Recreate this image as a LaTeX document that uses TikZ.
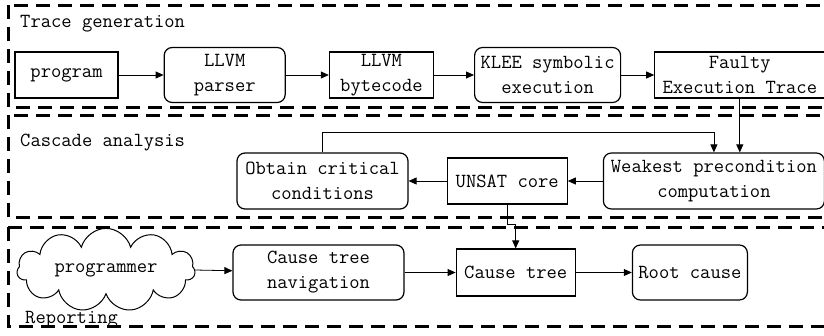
\documentclass[tikz,border=0pt]{standalone}
\usepackage{fontspec}
\usetikzlibrary{arrows.meta,positioning,shapes.symbols}

\tikzset{
  zone/.style={draw, line width=3pt, dash pattern=on 14pt off 8pt},
  box/.style={draw, line width=1.2pt, align=center, inner sep=2pt, minimum height=46pt},
  rbox/.style={box, rounded corners=8pt, minimum height=55pt},
  flow/.style={-{Triangle[length=8pt,width=7pt]}, line width=0.8pt},
  zonelabel/.style={anchor=west, inner sep=0pt},
}

\begin{document}
\begin{tikzpicture}[x=1pt, y=-1pt, every node/.style={font=\fontsize{20}{25}\selectfont\ttfamily}]
  \useasboundingbox (0,0) rectangle (824,335);

  % the three stages
  \draw[zone] (8,5) rectangle (840,107);
  \draw[zone] (8,115) rectangle (840,217);
  \draw[zone] (8,227) rectangle (840,326);
  \node[zonelabel] (gen) at (20,24) {Trace generation};
  \node[zonelabel] (cascade) at (20,143) {Cascade analysis};
  \node[zonelabel, anchor=base west] (report) at (25,323) {Reporting};

  % trace generation
  \node[box, minimum width=103pt] (prog) at (66.5,75) {program};
  \node[rbox, minimum width=121pt, right=45pt of prog] (parser) {LLVM\\parser};
  \node[box, minimum width=104pt, right=43pt of parser] (bc) {LLVM\\bytecode};
  \node[rbox, minimum width=146pt, right=40pt of bc] (klee) {KLEE symbolic\\execution};
  \node[box, minimum width=170pt, right=33pt of klee] (faulty) {Faulty\\Execution Trace};

  % cascade analysis
  \node[rbox, minimum width=171pt, minimum height=56pt] (obtain) at (322.5,181) {Obtain critical\\conditions};
  \node[box, minimum width=120pt, right=38pt of obtain] (unsat) {UNSAT core};
  \node[rbox, minimum width=221pt, minimum height=56pt, right=35pt of unsat] (weakest) {Weakest precondition\\computation};

  % reporting
  \node[cloud, draw, line width=1pt, cloud puffs=11, aspect=2.7, minimum width=178pt, minimum height=67pt, inner sep=0pt] (coder) at (106,270) {programmer};
  \node[rbox, minimum width=171pt] (nav) at (318.5,272.5) {Cause tree\\navigation};
  \node[box, minimum width=119pt, minimum height=47pt, right=51pt of nav] (ctree) {Cause tree};
  \node[rbox, minimum width=115pt, right=56pt of ctree] (root) {Root cause};

  \draw[flow] (prog) -- (parser);
  \draw[flow] (parser) -- (bc);
  \draw[flow] (bc) -- (klee);
  \draw[flow] (klee) -- (faulty);
  \draw[flow] (faulty.south) -- (faulty.south |- weakest.north);
  \draw[flow] (weakest) -- (unsat);
  \draw[flow] (unsat) -- (obtain);
  \coordinate (loop) at (0,132);
  \draw[flow] (obtain.north) |- (loop -| weakest.north) -- (weakest.north);
  \draw[flow] (unsat.south) -- ++(0,20) -| (ctree.north);
  \draw[flow] (coder.east) -- (nav);
  \draw[flow] (nav) -- (ctree);
  \draw[flow] (ctree) -- (root);
\end{tikzpicture}
\end{document}
